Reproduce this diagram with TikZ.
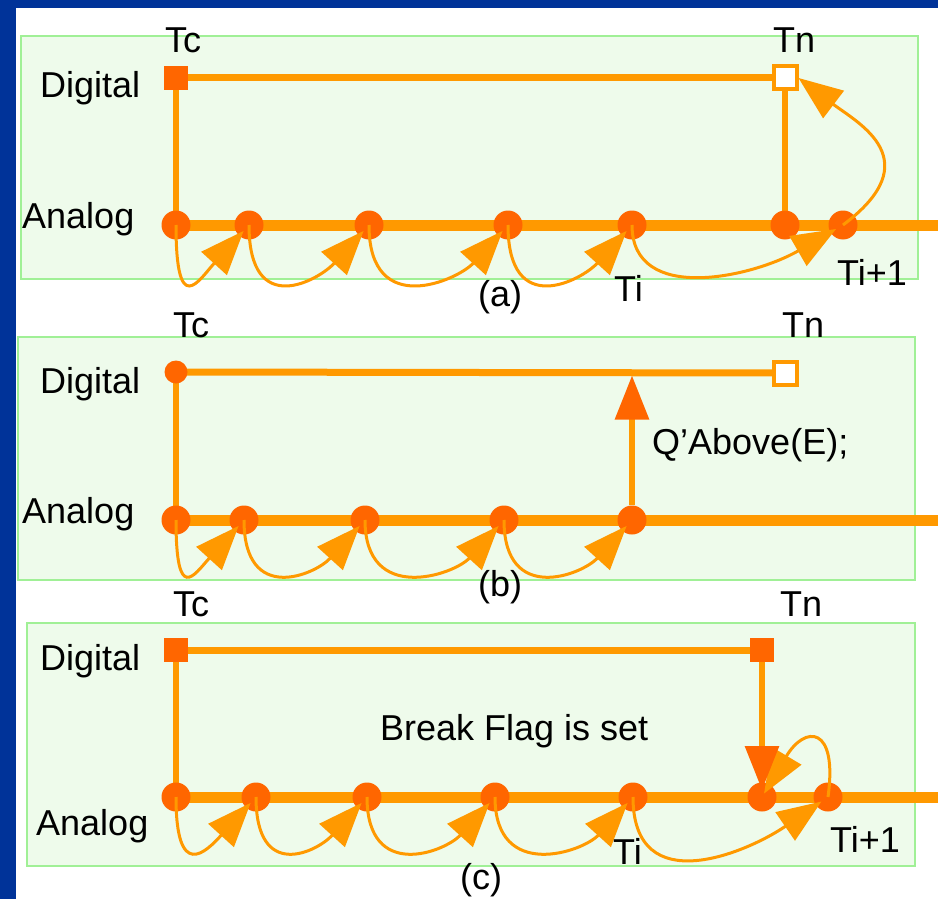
\documentclass[tikz,border=0pt]{standalone}
\usepackage{fontspec}
\setmainfont{Liberation Sans}
\usetikzlibrary{arrows.meta,backgrounds}

\definecolor{slideblue}{RGB}{0,51,153}
\definecolor{lineorange}{RGB}{255,153,0}
\definecolor{dotorange}{RGB}{255,102,0}
\definecolor{panelfill}{RGB}{238,251,235}
\definecolor{paneledge}{RGB}{160,240,150}

\begin{document}
\begin{tikzpicture}[x=1pt, y=1pt, >={Triangle[length=44pt,width=34pt]},
    txt/.style={font=\fontsize{36}{40}\selectfont, inner sep=0pt, anchor=base west},
    panel/.style={draw=paneledge, line width=2pt, fill=panelfill},
    analog/.style={lineorange, line width=11pt},
    digital/.style={lineorange, line width=7pt},
    riser/.style={lineorange, line width=6pt},
    event/.style={circle, fill=dotorange, minimum size=29pt, inner sep=0pt},
    flagsq/.style={fill=dotorange, minimum size=24pt, inner sep=0pt},
    opensq/.style={draw=lineorange, fill=white, line width=4pt, minimum size=23pt, inner sep=0pt},
    hoparrow/.style={->, lineorange, line width=3pt, shorten >=8pt},
    flagarrow/.style={-{Triangle[length=44pt,width=33pt,color=dotorange]}, lineorange, line width=6pt}]
    \useasboundingbox (0,0) rectangle (938,-899);

    \begin{pgfonlayer}{background}
        \fill[white] (0,0) rectangle (938,-899);
        \fill[slideblue] (0,0) rectangle (938,-8);
        \fill[slideblue] (0,0) rectangle (16,-899);
        \draw[panel] (21,-36) rectangle (918,-279);
        \draw[panel] (18,-337) rectangle (915,-580);
        \draw[panel] (27,-623) rectangle (915,-866);
    \end{pgfonlayer}

    % (a)
    \node[flagsq] (tcA) at (176,-78) {};
    \node[opensq] (tnA) at (785,-78) {};
    \foreach \n/\x in {1/176,2/249,3/369,4/508,5/632,6/785,7/843}
        \node[event] (a\n) at (\x,-225) {};
    \coordinate (aEnd) at (938,-225);
    \begin{pgfonlayer}{background}
        \draw[analog] (a1.center) -- (aEnd);
        \draw[digital] (tcA.center) -- (tnA.center);
        \draw[riser] (tcA.center) -- (a1.center);
        \draw[riser] (tnA.center) -- (a6.center);
    \end{pgfonlayer}
    \foreach \s/\t in {1/2,2/3,3/4,4/5}
        \draw[hoparrow] (a\s.center) .. controls +(0,-95) and +(-50,-55) .. (a\t.center);
    \draw[hoparrow] (a5.center) .. controls +(0,-80) and +(-90,-52) .. (a7.center);
    \draw[hoparrow, shorten >=0pt] (a7.center) .. controls (930,-160) and (858,-123) .. (tnA.east);

    \node[txt] (tcAl) at (165,-53) {Tc};
    \node[txt] (tnAl) at (773,-53) {Tn};
    \node[txt] (digA) at (40,-98) {Digital};
    \node[txt] (anaA) at (22,-228) {Analog};
    \node[txt] (tiA) at (614,-301) {Ti};
    \node[txt] (tiiA) at (837,-285) {Ti+1};
    \node[txt] (capA) at (478,-306) {(a)};

    % (b)
    \node[event, minimum size=23pt] (tcB) at (176,-372) {};
    \node[opensq] (tnB) at (785,-373) {};
    \foreach \n/\x in {1/176,2/244,3/365,4/504,5/632}
        \node[event] (b\n) at (\x,-520) {};
    \coordinate (bEnd) at (938,-520);
    \coordinate (qB) at (632,-372);
    \begin{pgfonlayer}{background}
        \draw[analog] (b1.center) -- (bEnd);
        \draw[digital] (tcB.center) -- (tnB.center);
        \draw[riser] (tcB.center) -- (b1.center);
    \end{pgfonlayer}
    \foreach \s/\t in {1/2,2/3,3/4,4/5}
        \draw[hoparrow] (b\s.center) .. controls +(0,-85) and +(-50,-55) .. (b\t.center);
    \draw[flagarrow, shorten >=3.5pt] (b5.north) -- (qB);

    \node[txt] (tcBl) at (173,-337) {Tc};
    \node[txt] (tnBl) at (782,-337) {Tn};
    \node[txt] (digB) at (40,-393) {Digital};
    \node[txt] (anaB) at (22,-523) {Analog};
    \node[txt] (query) at (652,-454) {Q’Above(E);};
    \node[txt] (capB) at (478,-596) {(b)};

    % (c)
    \node[flagsq] (tcC) at (176,-650) {};
    \node[flagsq] (tnC) at (762,-650) {};
    \foreach \n/\x in {1/176,2/256,3/367,4/495,5/633,6/762,7/828}
        \node[event] (c\n) at (\x,-797) {};
    \coordinate (cEnd) at (938,-797);
    \begin{pgfonlayer}{background}
        \draw[analog] (c1.center) -- (cEnd);
        \draw[digital] (tcC.center) -- (tnC.center);
        \draw[riser] (tcC.center) -- (c1.center);
    \end{pgfonlayer}
    \foreach \s/\t in {1/2,2/3,3/4,4/5}
        \draw[hoparrow] (c\s.center) .. controls +(0,-85) and +(-50,-55) .. (c\t.center);
    \draw[hoparrow] (c5.center) .. controls +(0,-105) and +(-80,-55) .. (c7.center);
    \draw[hoparrow, shorten >=4pt] (c7.center) .. controls (838,-725) and (805,-725) .. (c6.center);
    \draw[flagarrow, shorten >=7pt] (tnC.south) -- (c6.center);

    \node[txt] (tcCl) at (173,-616) {Tc};
    \node[txt] (tnCl) at (780,-616) {Tn};
    \node[txt] (digC) at (40,-670) {Digital};
    \node[txt] (anaC) at (36,-835) {Analog};
    \node[txt] (brk) at (380,-740) {Break Flag is set};
    \node[txt] (tiC) at (613,-864) {Ti};
    \node[txt] (tiiC) at (830,-852) {Ti+1};
    \node[txt] (capC) at (460,-889) {(c)};
\end{tikzpicture}
\end{document}
